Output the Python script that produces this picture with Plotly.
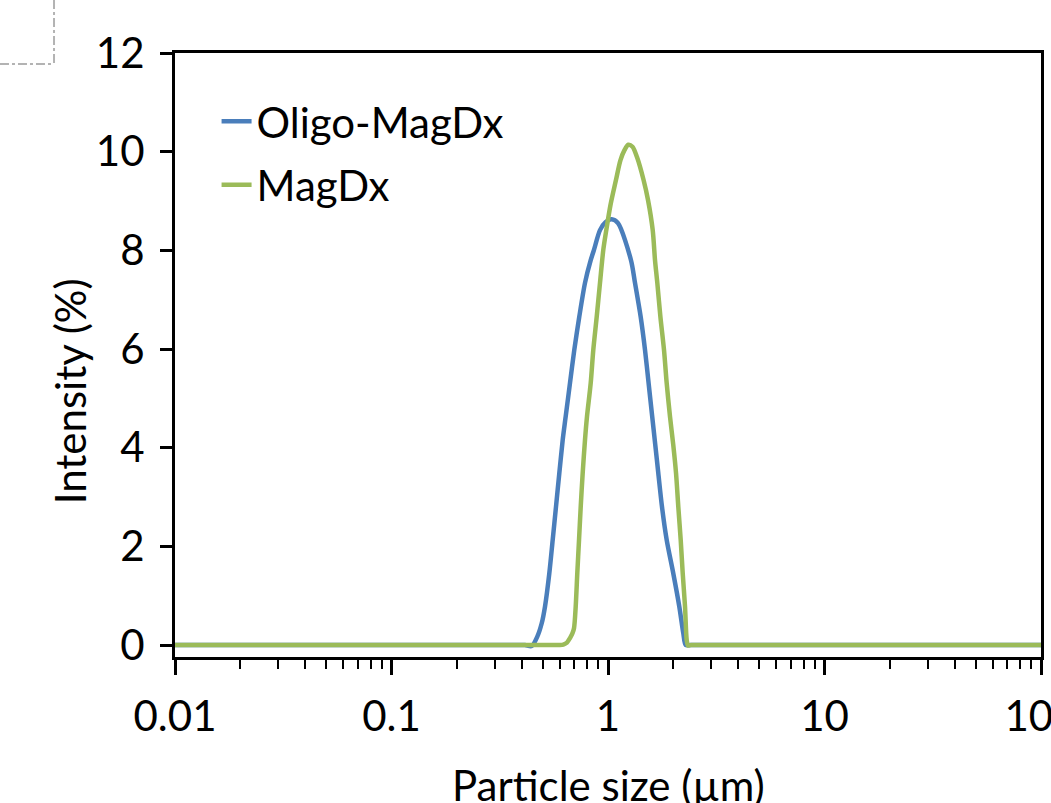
import plotly.graph_objects as go

# Particle size (µm) and intensity (%)
oligo_x = [0.01, 0.1, 0.3, 0.38, 0.4136, 0.4443, 0.4714, 0.4941, 0.5117, 0.5356, 0.5553,
           0.5751, 0.5958, 0.6178, 0.6376, 0.6675, 0.6986, 0.7366, 0.7831, 0.8320, 0.8615,
           0.9183, 0.9739, 1.0402, 1.1122, 1.2770, 1.3326, 1.4158, 1.4823, 1.5399,
           1.6001, 1.6540, 1.7075, 1.7759, 1.8665, 2.0028, 2.1346, 2.2275, 2.2851, 2.3921,
           2.6, 3.0, 10, 100]
oligo_y = [0, 0, 0, 0, 0, -0.02, 0.17, 0.44, 0.78, 1.45, 2.13,
           2.80, 3.48, 4.16, 4.63, 5.31, 5.98, 6.65, 7.34, 7.80, 8.01,
           8.41, 8.57, 8.63, 8.55, 7.80, 7.34, 6.65, 5.98, 5.31,
           4.63, 4.05, 3.48, 2.80, 2.13, 1.45, 0.78, 0.24, 0, 0,
           0, 0, 0, 0]

magdx_x = [0.01, 0.1, 0.4, 0.55, 0.6, 0.6217, 0.6464, 0.6675, 0.6855, 0.6966, 0.7093,
           0.7215, 0.7348, 0.7481, 0.7641, 0.7831, 0.7998, 0.8320, 0.8552, 0.8867, 0.9183,
           0.9513, 0.9820, 1.0268, 1.0889, 1.1420, 1.1916, 1.2411, 1.2977, 1.3608, 1.4588,
           1.5304, 1.6086, 1.6487, 1.6895, 1.7463, 1.8143, 1.8665, 1.9334, 2.0028, 2.0612,
           2.1122, 2.1667, 2.2131, 2.2685, 2.3097, 2.3418, 2.4178, 2.7, 3.0, 10, 100]
magdx_y = [0, 0, 0, 0, 0, 0.01, 0.05, 0.14, 0.24, 0.34, 0.78,
           1.46, 2.13, 2.80, 3.49, 4.16, 4.63, 5.31, 5.98, 6.65, 7.34,
           8.01, 8.41, 8.92, 9.43, 9.83, 10.03, 10.14, 10.10, 9.89, 9.43,
           9.02, 8.41, 7.80, 7.34, 6.65, 5.98, 5.31, 4.63, 4.05, 3.49,
           2.80, 2.13, 1.46, 0.78, 0.10, -0.01, 0, 0, 0, 0, 0]

series_names = ["Oligo-MagDx", "MagDx"]
y_ticks = [0, 2, 4, 6, 8, 10, 12]

FONT = "Lato"
FS = 42

fig = go.Figure()
fig.add_trace(go.Scatter(x=oligo_x, y=oligo_y, mode="lines", name=series_names[0],
                         legendgroup="a",
                         line=dict(color="#4A7EBB", width=4.5, shape="spline", smoothing=0.8)))
fig.add_trace(go.Scatter(x=magdx_x, y=magdx_y, mode="lines", name=series_names[1],
                         legendgroup="b",
                         line=dict(color="#9BBB59", width=4.5, shape="spline", smoothing=0.8)))

fig.update_layout(
    width=1051, height=803,
    margin=dict(l=175, r=10, t=53, b=146, autoexpand=False),
    paper_bgcolor="white", plot_bgcolor="white",
    font=dict(family=FONT, size=FS, color="black"),
    showlegend=True,
    legend=dict(x=0.048, y=0.943, xanchor="left", yanchor="top",
                bgcolor="rgba(0,0,0,0)", font=dict(family=FONT, size=FS),
                tracegroupgap=6),
    xaxis=dict(type="log", range=[-2, 2], dtick=1, showgrid=False, zeroline=False,
               showline=True, linecolor="black", linewidth=3, mirror=True,
               ticks="outside", ticklen=15, tickwidth=2.5, tickcolor="black",
               ticklabelstandoff=6, ticklabeloverflow="allow", automargin=False,
               minor=dict(ticks="outside", ticklen=9, tickwidth=2, tickcolor="black",
                          dtick="D1", showgrid=False),
               tickfont=dict(family=FONT, size=FS)),
    yaxis=dict(range=[-0.243, 12], tickvals=y_ticks, showgrid=False, zeroline=False,
               showline=True, linecolor="black", linewidth=3, mirror=True,
               ticks="outside", ticklen=12, tickwidth=2.5, tickcolor="black",
               ticklabelstandoff=7, automargin=False,
               tickfont=dict(family=FONT, size=FS)),
    annotations=[
        dict(text="Particle size (µm)", xref="paper", yref="paper", x=0.5, y=-0.212,
             xanchor="center", yanchor="middle", showarrow=False,
             font=dict(family=FONT, size=FS)),
        dict(text="Intensity (%)", xref="paper", yref="paper", x=-0.121, y=0.4404,
             xanchor="center", yanchor="middle", showarrow=False, textangle=-90,
             font=dict(family=FONT, size=FS)),
    ],
    shapes=[
        dict(type="line", xref="paper", yref="paper", x0=-0.1397, x1=-0.1397,
             y0=1.0877, y1=0.9818, line=dict(color="#b3b3b3", width=2, dash="dashdot")),
        dict(type="line", xref="paper", yref="paper", x0=-0.2021, x1=-0.1397,
             y0=0.9818, y1=0.9818, line=dict(color="#b3b3b3", width=2, dash="dashdot")),
    ],
)

fig.write_html("out.html")
